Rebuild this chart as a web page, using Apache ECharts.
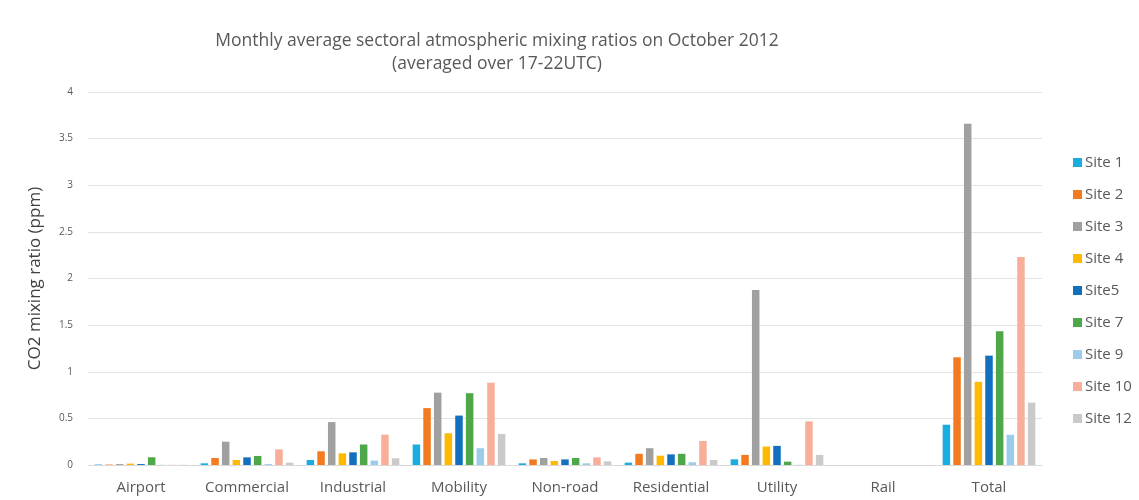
<!DOCTYPE html>
<html><head><meta charset="utf-8">
<script src="https://cdn.jsdelivr.net/npm/echarts@6/dist/echarts.min.js"></script>
<style>html,body{margin:0;padding:0;background:#fff}#c{width:1139px;height:500px}</style>
</head><body><div id="c"></div>
<script>
var categories = ['Airport','Commercial','Industrial','Mobility','Non-road','Residential','Utility','Rail','Total'];
var yTicks = ['0','0.5','1','1.5','2','2.5','3','3.5','4'];
var site1  = [0.005, 0.018, 0.054, 0.22, 0.018, 0.025, 0.061, 0, 0.432];
var site2  = [0.005, 0.075, 0.147, 0.61, 0.060, 0.120, 0.108, 0, 1.155];
var site3  = [0.010, 0.250, 0.460, 0.776, 0.075, 0.180, 1.878, 0, 3.660];
var site4  = [0.015, 0.054, 0.125, 0.34, 0.043, 0.100, 0.198, 0, 0.892];
var site5  = [0.010, 0.082, 0.136, 0.53, 0.060, 0.114, 0.205, 0, 1.173];
var site7  = [0.083, 0.097, 0.220, 0.77, 0.075, 0.120, 0.036, 0, 1.435];
var site9  = [0.002, 0.010, 0.047, 0.18, 0.018, 0.029, 0.002, 0, 0.324];
var site10 = [0.002, 0.168, 0.325, 0.883, 0.082, 0.258, 0.468, 0, 2.230];
var site12 = [0.002, 0.025, 0.072, 0.333, 0.039, 0.054, 0.108, 0, 0.669];
var seriesNames = ['Site 1','Site 2','Site 3','Site 4','Site5','Site 7','Site 9','Site 10','Site 12'];
var seriesData = [site1, site2, site3, site4, site5, site7, site9, site10, site12];
var colors = ['#1AADE0','#F47A20','#A0A0A0','#FFB900','#1270BE','#4EA84A','#9DCBEB','#F8AE98','#CACACA'];

var font = 'Open Sans, Liberation Sans, sans-serif';
var chart = echarts.init(document.getElementById('c'));
chart.setOption({
  animation: false,
  color: colors,
  title: {
    text: 'Monthly average sectoral atmospheric mixing ratios on October 2012\n(averaged over 17-22UTC)',
    left: 492, top: 25, textAlign: 'center',
    textStyle: {fontFamily: font, fontSize: 17.5, fontWeight: 'normal', color: '#595959', lineHeight: 23, align: 'center'}
  },
  legend: {
    orient: 'vertical', left: 1068, top: 150, itemWidth: 9, itemHeight: 9, itemGap: 17,
    icon: 'rect',
    textStyle: {fontFamily: font, fontSize: 15, color: '#595959', padding: [0,0,0,-2]},
    data: seriesNames
  },
  grid: {left: 88, right: 97, top: 92, bottom: 35},
  xAxis: {
    type: 'category', data: categories,
    axisLine: {lineStyle: {color: '#d9d9d9'}},
    axisTick: {show: false},
    axisLabel: {interval: 0, fontFamily: font, fontSize: 15, color: '#595959', margin: 15}
  },
  yAxis: {
    type: 'value', min: 0, max: 4, interval: 0.5,
    name: 'CO2 mixing ratio (ppm)', nameLocation: 'middle', nameGap: 44,
    nameTextStyle: {fontFamily: font, fontSize: 17, color: '#404040'},
    axisLine: {show: false}, axisTick: {show: false},
    axisLabel: {fontFamily: font, fontSize: 10, color: '#595959', margin: 15,
      formatter: function(v){ var i = Math.round(v/0.5); return yTicks[i]; }},
    splitLine: {lineStyle: {color: '#e3e3e3'}}
  },
  series: seriesNames.map(function(n, i){
    return {name: n, type: 'bar', data: seriesData[i], barWidth: 7.5, barGap: '42%'};
  })
});
</script></body></html>
